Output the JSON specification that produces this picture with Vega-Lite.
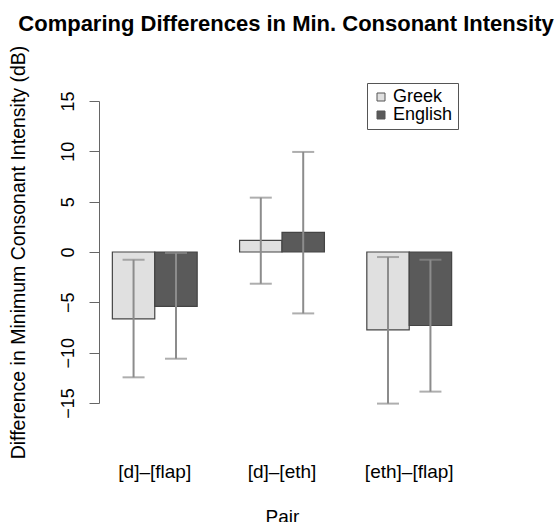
{
  "$schema": "https://vega.github.io/schema/vega-lite/v6.json",
  "autosize": {"type": "none"},
  "padding": {"left": 99, "top": 101, "right": 93, "bottom": 119},
  "width": 366,
  "height": 302,
  "background": "white",
  "config": {"font": "Liberation Sans", "view": {"stroke": null}},
  "title": {
    "text": "Comparing Differences in Min. Consonant Intensity",
    "fontSize": 22,
    "fontWeight": "bold",
    "frame": "group",
    "anchor": "middle",
    "baseline": "alphabetic",
    "offset": -8,
    "dx": 4,
    "color": "black"
  },
  "data": {
    "values": [
      {"pair": "[d]–[flap]", "lang": "Greek", "mean": -6.64, "lo": -12.45, "hi": -0.77},
      {"pair": "[d]–[flap]", "lang": "English", "mean": -5.41, "lo": -10.6, "hi": -0.1},
      {"pair": "[d]–[eth]", "lang": "Greek", "mean": 1.15, "lo": -3.15, "hi": 5.4},
      {"pair": "[d]–[eth]", "lang": "English", "mean": 1.95, "lo": -6.1, "hi": 9.94},
      {"pair": "[eth]–[flap]", "lang": "Greek", "mean": -7.73, "lo": -15.06, "hi": -0.5},
      {"pair": "[eth]–[flap]", "lang": "English", "mean": -7.3, "lo": -13.87, "hi": -0.77}
    ]
  },
  "encoding": {
    "x": {
      "field": "pair",
      "type": "nominal",
      "sort": ["[d]–[flap]", "[d]–[eth]", "[eth]–[flap]"],
      "scale": {"paddingInner": 0.3333, "paddingOuter": 0.105},
      "axis": {
        "title": "Pair",
        "domain": false,
        "ticks": false,
        "tickSize": 0,
        "labelAngle": 0,
        "labelFontSize": 19,
        "labelPadding": 59,
        "labelColor": "black",
        "titleFontSize": 19,
        "titleFontWeight": "normal",
        "titleColor": "black",
        "titlePadding": 26
      }
    },
    "xOffset": {"field": "lang", "type": "nominal", "sort": ["Greek", "English"]}
  },
  "layer": [
    {
      "mark": {"type": "bar", "stroke": "#444", "strokeWidth": 1.2},
      "encoding": {
        "y": {
          "field": "mean",
          "type": "quantitative",
          "scale": {"domain": [-15, 15], "nice": false},
          "axis": {
            "title": "Difference in Minimum Consonant Intensity (dB)",
            "values": [-15, -10, -5, 0, 5, 10, 15],
            "grid": false,
            "labelAngle": 270,
            "labelFontSize": 18,
            "labelPadding": 12,
            "labelColor": "black",
            "tickSize": 10,
            "tickColor": "#666",
            "domainColor": "#666",
            "titleFontSize": 19.5,
            "titleFontWeight": "normal",
            "titleColor": "black",
            "titlePadding": 31
          }
        },
        "color": {
          "field": "lang",
          "type": "nominal",
          "scale": {"domain": ["Greek", "English"], "range": ["#e0e0e0", "#5a5a5a"]},
          "legend": {
            "title": null,
            "orient": "none",
            "legendX": 268,
            "legendY": -18,
            "strokeColor": "#555",
            "fillColor": "white",
            "padding": 5,
            "symbolType": "square",
            "symbolSize": 64,
            "symbolStrokeColor": "#555",
            "symbolStrokeWidth": 1,
            "labelFontSize": 18,
            "labelOffset": 3,
            "rowPadding": 0,
            "labelColor": "black"
          }
        }
      }
    },
    {
      "mark": {"type": "rule", "color": "#8c8c8c", "strokeWidth": 2},
      "encoding": {
        "y": {"field": "lo", "type": "quantitative"},
        "y2": {"field": "hi"}
      }
    },
    {
      "mark": {"type": "tick", "color": "#8c8c8c", "thickness": 2, "size": 22},
      "encoding": {"y": {"field": "lo", "type": "quantitative"}}
    },
    {
      "mark": {"type": "tick", "color": "#8c8c8c", "thickness": 2, "size": 22},
      "encoding": {"y": {"field": "hi", "type": "quantitative"}}
    }
  ]
}
